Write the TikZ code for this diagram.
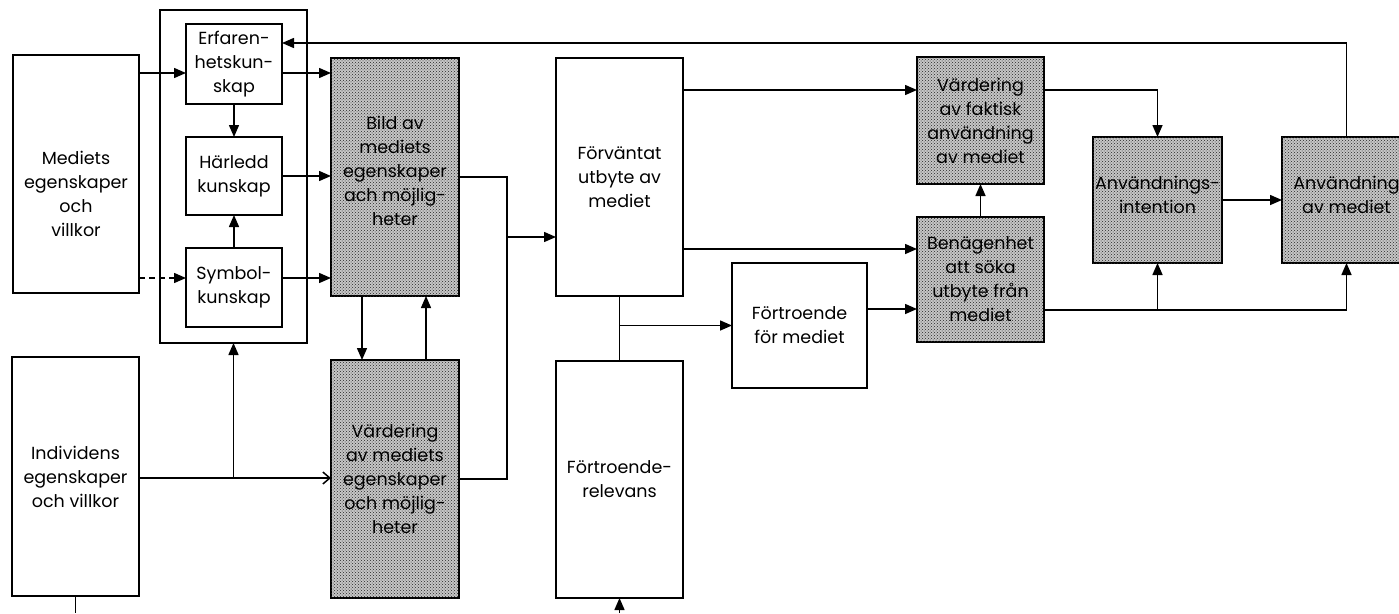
\documentclass[tikz,border=0pt]{standalone}
\usepackage{fontspec}
\setmainfont{Poppins}
\usetikzlibrary{arrows.meta,patterns}
\begin{document}
\begin{tikzpicture}[x=1pt,y=-1pt,
  box/.style={draw, line width=1.5pt, inner sep=0pt, outer sep=0pt, align=center,
    font=\fontsize{17.5}{24}\selectfont},
  shbox/.style={box, fill=gray!45, postaction={pattern=crosshatch dots, pattern color=black!85}},
  txt/.style={inner sep=0pt, align=center, font=\fontsize{17.5}{24}\selectfont},
  ln/.style={line width=1.5pt},
  arr/.style={ln, -{Triangle[length=12pt,width=10pt]}},
  oarr/.style={ln, -{Straight Barb[length=7pt,width=12pt,line width=1.5pt]}}]
\useasboundingbox (0,0) rectangle (1399,613);
% helper coordinates
\coordinate (h43) at (0,43);
\coordinate (h73) at (0,73);
\coordinate (h90) at (0,90);
\coordinate (h237) at (0,237);
\coordinate (h249) at (0,249);
\coordinate (h278) at (0,278);
\coordinate (h309) at (0,309);
\coordinate (h310) at (0,310);
\coordinate (h478) at (0,478);
\coordinate (v362) at (362,0);
\coordinate (v426) at (426,0);
\coordinate (v507) at (507,0);
\coordinate (bot) at (0,613);
% nodes
\node[box, minimum width=126pt, minimum height=238pt] (med) at (76,174) {};
\node[txt] (medtxt) at (76,194) {Mediets\\egenskaper\\och\\villkor};
\node[box, minimum width=127pt, minimum height=239pt] (ind) at (75.5,476.5) {Individens\\egenskaper\\och villkor};
\node[box, minimum width=147pt, minimum height=333pt] (grp) at (233.5,176.5) {};
\node[box, minimum width=96pt, minimum height=80pt] (erf) at (234,64) {Erfaren-\\hetskun-\\skap};
\node[box, minimum width=96pt, minimum height=78pt] (har) at (234,176) {Härledd\\kunskap};
\node[box, minimum width=96pt, minimum height=79pt] (sym) at (234,287.5) {Symbol-\\kunskap};
\node[shbox, minimum width=128pt, minimum height=238pt] (bild) at (395,177) {};
\node[txt] (bildtxt) at (395,171) {Bild av\\mediets\\egenskaper\\ach möjlig-\\heter};
\node[shbox, minimum width=128pt, minimum height=238pt] (vmed) at (395,479) {Värdering\\av mediets\\egenskaper\\och möjlig-\\heter};
\node[box, minimum width=127pt, minimum height=238pt] (forv) at (619.5,177) {Förväntat\\utbyte av\\mediet};
\node[box, minimum width=127pt, minimum height=237pt] (frel) at (619.5,479.5) {Förtroende-\\relevans};
\node[box, minimum width=135pt, minimum height=125pt] (ffm) at (799.5,325.5) {Förtroende\\för mediet};
\node[shbox, minimum width=127pt, minimum height=127pt] (vfak) at (980.5,120.5) {Värdering\\av faktisk\\användning\\av mediet};
\node[shbox, minimum width=127pt, minimum height=125pt] (ben) at (980.5,279.5) {Benägenhet\\att söka\\utbyte från\\mediet};
\node[shbox, minimum width=129pt, minimum height=126pt] (ai) at (1157.5,200) {};
\node[txt] (aitxt) at (1157.5,195) {Användnings-\\intention};
\node[shbox, minimum width=129pt, minimum height=126pt] (anv) at (1346.5,200) {};
\node[txt] (anvtxt) at (1346.5,195) {Användning\\av mediet};
% connectors, left part
\draw[arr] (med.east |- h73) -- (erf.west |- h73);
\draw[arr, dash pattern=on 6pt off 4pt] (med.east |- h278) -- (sym.west |- h278);
\draw[arr] (erf.south) -- (har.north);
\draw[arr] (sym.north) -- (har.south);
\draw[arr] (erf.east |- h73) -- (bild.west |- h73);
\draw[arr] (har.east) -- (har.east -| bild.west);
\draw[arr] (sym.east |- h278) -- (bild.west |- h278);
\draw[oarr] (ind.east |- h478) -- (vmed.west |- h478);
\draw[arr] (grp.south |- h478) -- (grp.south);
\draw[arr] (bild.south -| v362) -- (vmed.north -| v362);
\draw[arr] (vmed.north -| v426) -- (bild.south -| v426);
\draw[ln] (bild.east) -- (v507 |- bild.east) -- (v507 |- vmed.east) -- (vmed.east);
\draw[arr] (v507 |- h237) -- (forv.west |- h237);
\draw[ln] (ind.south) -- (ind.south |- bot);
% middle
\draw[ln] (forv.south) -- (frel.north);
\draw[arr] (forv.south |- ffm.west) -- (ffm.west);
\draw[arr] (frel.south |- bot) -- (frel.south);
\draw[arr] (forv.east |- h90) -- (vfak.west |- h90);
\draw[arr] (forv.east |- h249) -- (ben.west |- h249);
\draw[arr] (ffm.east |- h309) -- (ben.west |- h309);
\draw[arr] (ben.north) -- (vfak.south);
% right
\draw[arr] (vfak.east |- h90) -| (ai.north);
\draw[ln] (ben.east |- h310) -- (anv.south |- h310);
\draw[arr] (ai.south |- h310) -- (ai.south);
\draw[arr] (anv.south |- h310) -- (anv.south);
\draw[arr] (ai.east) -- (anv.west);
\draw[arr] (anv.north) |- (erf.east |- h43);
\end{tikzpicture}
\end{document}
